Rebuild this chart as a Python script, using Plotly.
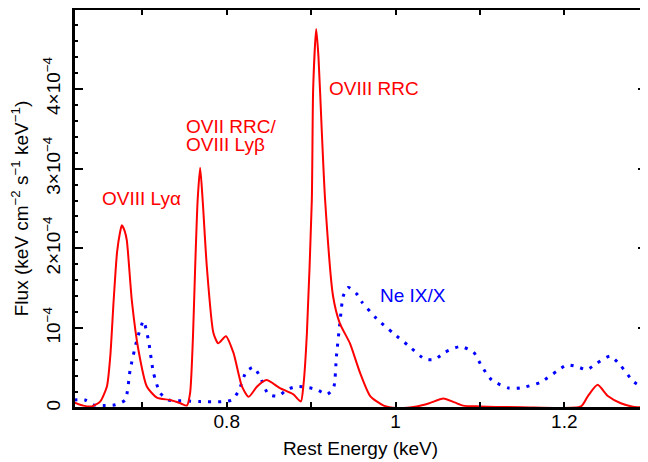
import plotly.graph_objects as go

# Spectral model components, flux in units of 1e-4 keV cm^-2 s^-1 keV^-1
FLUX_UNIT = 1e-4

oxygen_energy = [0.619, 0.630, 0.640, 0.650, 0.658, 0.662, 0.666, 0.670, 0.6735, 0.6757,
                 0.6790, 0.6816, 0.6875, 0.6953, 0.7053, 0.7172, 0.733, 0.745, 0.7527,
                 0.7566, 0.760, 0.7626, 0.7655, 0.7685, 0.7715, 0.7764, 0.7842, 0.790,
                 0.799, 0.808, 0.818, 0.826, 0.836, 0.847, 0.863, 0.879, 0.8878, 0.891,
                 0.895, 0.9008, 0.9024, 0.906, 0.9087, 0.9125, 0.9166, 0.926, 0.934,
                 0.946, 0.958, 0.970, 0.986, 1.0015, 1.025, 1.040, 1.0567, 1.070, 1.080,
                 1.10, 1.15, 1.2198, 1.228, 1.2395, 1.2516, 1.267, 1.28, 1.298]
oxygen_flux = [0.07, 0.03, 0.02, 0.08, 0.27, 0.65, 1.35, 1.95, 2.20, 2.29,
               2.22, 2.10, 1.35, 0.73, 0.27, 0.13, 0.10, 0.06, 0.03,
               0.19, 0.90, 1.77, 2.60, 3.01, 2.60, 1.77, 0.94, 0.81,
               0.90, 0.69, 0.27, 0.14, 0.27, 0.35, 0.25, 0.17, 0.08, 0.30,
               0.94, 2.60, 4.00, 4.75, 4.40, 3.50, 2.60, 1.40, 1.06,
               0.81, 0.44, 0.15, 0.03, 0.00, 0.02, 0.06, 0.12, 0.07, 0.03,
               0.02, 0.01, 0.02, 0.15, 0.29, 0.15, 0.06, 0.02, 0.00]

neon_energy = [0.619, 0.632, 0.642, 0.654, 0.668, 0.6796, 0.6856, 0.6935, 0.7013, 0.7072,
               0.7132, 0.721, 0.731, 0.750, 0.7685, 0.794, 0.806, 0.814, 0.8233, 0.832,
               0.8396, 0.8495, 0.8613, 0.8712, 0.883, 0.8949, 0.9068, 0.9186, 0.9265,
               0.930, 0.9344, 0.938, 0.944, 0.954, 0.960, 0.9775, 0.997, 1.0166, 1.0351,
               1.047, 1.0588, 1.0766, 1.0924, 1.1023, 1.1141, 1.134, 1.1476, 1.1713,
               1.191, 1.2029, 1.2147, 1.2266, 1.2385, 1.2543, 1.2661, 1.282, 1.298]
neon_flux = [0.10, 0.10, 0.04, 0.03, 0.04, 0.10, 0.48, 0.85, 1.09, 0.85,
             0.44, 0.19, 0.10, 0.09, 0.08, 0.08, 0.10, 0.21, 0.46, 0.51,
             0.39, 0.17, 0.15, 0.23, 0.27, 0.26, 0.23, 0.17, 0.25,
             0.65, 1.10, 1.40, 1.51, 1.43, 1.33, 1.12, 0.94, 0.77, 0.61,
             0.61, 0.70, 0.77, 0.70, 0.52, 0.35, 0.25, 0.25, 0.32,
             0.46, 0.54, 0.52, 0.48, 0.56, 0.65, 0.54, 0.33, 0.23]

x_tickvals = [0.8, 1.0, 1.2]
x_ticktext = ['0.8', '1', '1.2']
x_minorvals = [0.7, 0.9, 1.1]
y_tickvals = [0, 1, 2, 3, 4]
y_ticktext = ['0', '10<sup>−4</sup>', '2×10<sup>−4</sup>', '3×10<sup>−4</sup>', '4×10<sup>−4</sup>']
y_minorvals = [0.2 * i for i in range(25)]

FONT = 'Arial, Liberation Sans, sans-serif'

fig = go.Figure()
fig.add_trace(go.Scatter(
    x=neon_energy,
    y=[v * FLUX_UNIT for v in neon_flux],
    mode='lines',
    line=dict(color='#0000ff', width=3, dash='3px,7px', shape='spline', smoothing=0.6),
    showlegend=False,
))
fig.add_trace(go.Scatter(
    x=oxygen_energy,
    y=[v * FLUX_UNIT for v in oxygen_flux],
    mode='lines',
    line=dict(color='#ff0000', width=2, shape='spline', smoothing=0.6),
    showlegend=False,
))

labels = [
    (0.6986, 2.62, 'OVIII Lyα', 'center', '#ff0000'),
    (0.7507, 3.53, 'OVII RRC/', 'left', '#ff0000'),
    (0.7507, 3.30, 'OVIII Lyβ', 'left', '#ff0000'),
    (0.9205, 4.01, 'OVIII RRC', 'left', '#ff0000'),
    (0.9806, 1.416, 'Ne IX/X', 'left', '#0000ff'),
]
for x, y, text, anchor, color in labels:
    fig.add_annotation(x=x, y=y * FLUX_UNIT, text=text, showarrow=False,
                       xanchor=anchor, yanchor='middle', align='left',
                       borderpad=0,
                       font=dict(family=FONT, size=19, color=color))

# frame around the plotting area
fig.add_shape(type='rect', xref='paper', yref='paper', x0=0, x1=1, y0=0, y1=1,
              line=dict(color='black', width=2), layer='above')

# the page body keeps its default 8px margin, so the figure is 8px smaller
fig.update_layout(
    width=640,
    height=454,
    margin=dict(l=66, r=1, t=1, b=54),
    paper_bgcolor='white',
    plot_bgcolor='white',
    font=dict(family=FONT, size=19, color='black'),
)
fig.update_xaxes(
    range=[0.619, 1.298],
    tickvals=x_tickvals,
    ticktext=x_ticktext,
    ticks='inside',
    ticklen=6,
    tickwidth=2,
    tickcolor='black',
    minor=dict(tickvals=x_minorvals, ticks='inside', ticklen=6, tickwidth=2, tickcolor='black'),
    showline=True,
    linecolor='black',
    linewidth=2,
    mirror='allticks',
    showgrid=False,
    zeroline=False,
    automargin=False,
    ticklabelstandoff=-5,
    title=dict(text='Rest Energy (keV)', font=dict(size=19), standoff=11),
)
fig.update_yaxes(
    range=[0, 5.0e-4],
    tickvals=[v * FLUX_UNIT for v in y_tickvals],
    ticktext=y_ticktext,
    tickangle=-90,
    ticks='inside',
    ticklen=9,
    tickwidth=2,
    tickcolor='black',
    minor=dict(tickvals=[v * FLUX_UNIT for v in y_minorvals], ticks='inside', ticklen=4,
               tickwidth=2, tickcolor='black'),
    showline=True,
    linecolor='black',
    linewidth=2,
    mirror='allticks',
    showgrid=False,
    zeroline=False,
    automargin=False,
    ticklabelstandoff=4,
    title=dict(text='Flux (keV cm<sup>−2</sup> s<sup>−1</sup> keV<sup>−1</sup>)',
               font=dict(size=19), standoff=12),
)

fig.write_html("out.html")
